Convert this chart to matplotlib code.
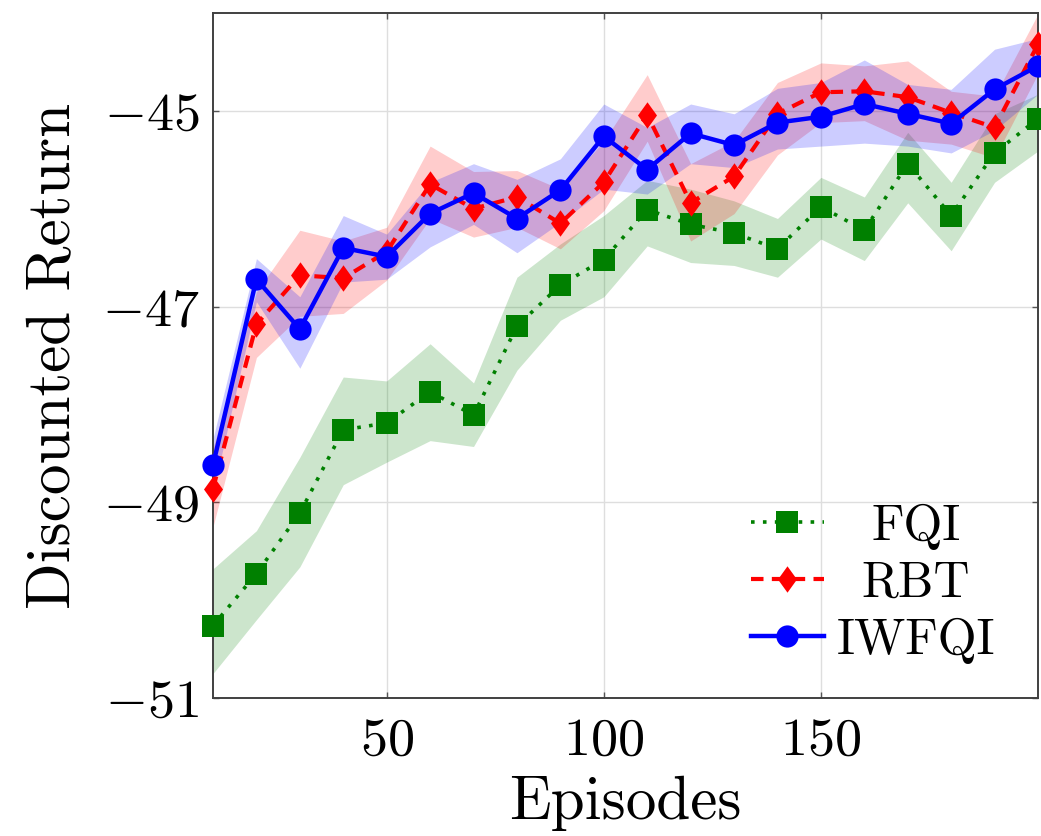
import matplotlib
matplotlib.use('Agg')
import matplotlib.pyplot as plt
from matplotlib.path import Path
from matplotlib.offsetbox import VPacker

plt.rcParams['font.family'] = ['cmr10', 'DejaVu Serif']
plt.rcParams['mathtext.fontset'] = 'cm'
plt.rcParams['axes.formatter.use_mathtext'] = True

episodes = [10, 20, 30, 40, 50, 60, 70, 80, 90, 100,
            110, 120, 130, 140, 150, 160, 170, 180, 190, 200]

fqi_mean = [-50.26, -49.73, -49.11, -48.26, -48.19, -47.87, -48.11, -47.20, -46.78, -46.52,
            -46.01, -46.16, -46.25, -46.41, -45.98, -46.22, -45.54, -46.07, -45.43, -45.08]
fqi_high = [-49.68, -49.29, -48.54, -47.72, -47.76, -47.38, -47.78, -46.70, -46.36, -46.07,
            -45.71, -45.80, -45.92, -46.10, -45.68, -45.88, -45.22, -45.73, -45.03, -44.83]
fqi_low = [-50.75, -50.20, -49.66, -48.82, -48.59, -48.37, -48.43, -47.65, -47.14, -46.90,
           -46.38, -46.55, -46.58, -46.70, -46.31, -46.53, -45.94, -46.43, -45.73, -45.41]

rbt_mean = [-48.86, -47.18, -46.68, -46.71, -46.44, -45.75, -46.00, -45.88, -46.15, -45.73,
            -45.04, -45.94, -45.67, -45.03, -44.81, -44.80, -44.86, -45.02, -45.17, -44.32]
rbt_high = [-48.45, -46.85, -46.22, -46.33, -46.19, -45.36, -45.62, -45.61, -45.80, -45.31,
            -44.63, -45.54, -45.31, -44.71, -44.51, -44.54, -44.49, -44.80, -44.85, -44.01]
rbt_low = [-49.25, -47.52, -47.10, -47.07, -46.73, -46.10, -46.29, -46.19, -46.41, -46.02,
           -45.31, -46.33, -46.05, -45.45, -45.12, -45.10, -45.30, -45.34, -45.48, -44.62]

iw_mean = [-48.62, -46.72, -47.23, -46.40, -46.49, -46.05, -45.84, -46.10, -45.81, -45.26,
           -45.60, -45.23, -45.35, -45.12, -45.06, -44.93, -45.03, -45.13, -44.78, -44.54]
iw_high = [-48.35, -46.51, -46.90, -46.07, -46.26, -45.73, -45.54, -45.70, -45.49, -44.93,
           -45.17, -44.93, -45.03, -44.77, -44.71, -44.48, -44.73, -44.78, -44.37, -44.26]
iw_low = [-48.90, -46.95, -47.63, -46.75, -46.72, -46.39, -46.16, -46.45, -46.14, -45.80,
          -45.85, -45.54, -45.58, -45.39, -45.36, -45.33, -45.36, -45.43, -45.20, -44.83]

labels = ['FQI', 'RBT', 'IWFQI']
xticks = [50, 100, 150]
yticks = [-51, -49, -47, -45]

GREEN = '#008000'
RED = '#FF0000'
BLUE = '#0000FF'

diamond = Path([(0, 1), (0.72, 0), (0, -1), (-0.72, 0), (0, 1)],
               [Path.MOVETO, Path.LINETO, Path.LINETO, Path.LINETO, Path.CLOSEPOLY])

fig = plt.figure(figsize=(10.41, 8.36), dpi=100)
ax = fig.add_axes([213 / 1041, 1 - 698 / 836, 825 / 1041, 685 / 836])

ax.fill_between(episodes, fqi_low, fqi_high, color=GREEN, alpha=0.2, lw=0)
ax.fill_between(episodes, rbt_low, rbt_high, color=RED, alpha=0.2, lw=0)
ax.fill_between(episodes, iw_low, iw_high, color=BLUE, alpha=0.2, lw=0)

ax.plot(episodes, fqi_mean, color=GREEN, lw=2.6, linestyle=(0, (1, 2.3)),
        marker='s', ms=15.5, mew=0, label=labels[0], clip_on=False, zorder=3)
ax.plot(episodes, rbt_mean, color=RED, lw=3.0, linestyle=(0, (3.0, 2.0)),
        marker=diamond, ms=19, mew=0, label=labels[1], clip_on=False, zorder=4)
ax.plot(episodes, iw_mean, color=BLUE, lw=3.2, linestyle='-',
        marker='o', ms=16, mew=0, label=labels[2], clip_on=False, zorder=5)

ax.set_xlim(10, 200)
ax.set_ylim(-51, -44)
ax.set_xticks(xticks)
ax.set_yticks(yticks)
ax.grid(True, color='#dedede', lw=1.0)
ax.set_axisbelow(True)
ax.tick_params(direction='in', length=4.5, width=1.0, color='#555555',
               top=True, right=True, labelsize=39, pad=10)
ax.tick_params(axis='x', pad=14)
for s in ax.spines.values():
    s.set_color('#404040')
    s.set_linewidth(1.4)

ax.set_xlabel('Episodes', fontsize=44, labelpad=8)
ax.set_ylabel('Discounted Return', fontsize=44, labelpad=14)

leg = ax.legend(loc='lower right', bbox_to_anchor=(0.948, 0.05), frameon=False,
                fontsize=36, handlelength=1.46, handletextpad=0.26, labelspacing=0.22,
                borderpad=0, borderaxespad=0, numpoints=1)

try:
    fig.canvas.draw()
    r = fig.canvas.get_renderer()
    W = max(t.get_window_extent(r).width for t in leg.get_texts())
    col = leg._legend_handle_box.get_children()[0]
    for item in col.get_children():
        h, ta = item.get_children()
        item._children = [h, VPacker(children=[ta], width=W, align='center', pad=0, sep=0)]
except Exception:
    pass

fig.savefig('out.png', dpi=100)
